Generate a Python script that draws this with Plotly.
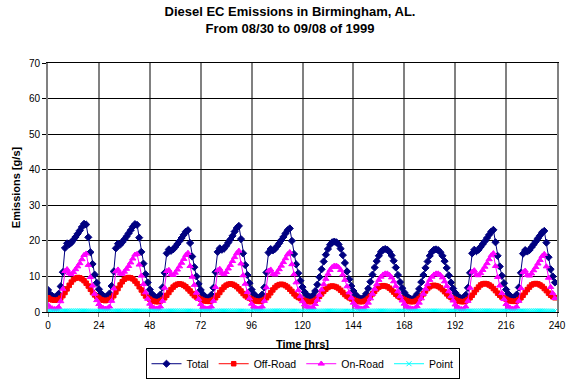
import plotly.graph_objects as go

# Hourly diesel EC emissions [g/s], Birmingham AL, 08/30 - 09/08 1999.
# One row of 24 hourly values per day (hour 0 .. 23).
DAYS = ["08/30", "08/31", "09/01", "09/02", "09/03",
        "09/04", "09/05", "09/06", "09/07", "09/08"]

TOTAL = [
    [6.2, 5.0, 4.5, 4.1, 4.3, 5.1, 7.2, 11.2, 18.0, 19.3, 19.0, 19.5, 20.3, 21.1, 22.0, 22.9, 23.9, 24.8, 24.6, 21.0, 16.8, 13.5, 10.5, 8.2],
    [6.4, 5.2, 4.6, 4.2, 4.4, 5.2, 7.3, 11.4, 17.9, 19.2, 18.9, 19.6, 20.4, 21.2, 22.1, 23.0, 24.0, 24.7, 24.5, 20.9, 16.9, 13.6, 10.6, 8.3],
    [6.3, 5.1, 4.4, 4.0, 4.1, 4.9, 6.9, 11.0, 16.5, 17.6, 17.2, 17.6, 18.3, 19.1, 19.9, 20.8, 21.7, 22.6, 23.0, 19.4, 15.6, 12.6, 10.0, 7.9],
    [6.2, 5.0, 4.3, 3.9, 4.0, 4.8, 6.8, 11.2, 16.9, 17.9, 17.5, 17.8, 18.6, 19.5, 20.4, 21.4, 22.6, 23.6, 24.2, 20.5, 16.5, 13.2, 10.4, 8.1],
    [6.3, 5.1, 4.4, 4.0, 4.1, 4.9, 6.9, 11.1, 16.7, 17.7, 17.3, 17.7, 18.5, 19.3, 20.2, 21.1, 22.1, 23.0, 23.5, 20.0, 16.3, 13.4, 10.9, 8.8],
    [7.0, 5.6, 4.8, 4.3, 4.2, 4.7, 5.9, 7.7, 9.8, 12.0, 14.2, 16.1, 17.7, 18.9, 19.6, 19.8, 19.6, 19.0, 17.8, 16.0, 13.8, 11.4, 9.2, 7.3],
    [5.9, 4.9, 4.2, 3.8, 3.7, 4.1, 5.1, 6.6, 8.5, 10.5, 12.5, 14.3, 15.8, 16.9, 17.5, 17.7, 17.5, 16.9, 15.9, 14.4, 12.5, 10.4, 8.4, 6.7],
    [5.5, 4.6, 4.0, 3.7, 3.6, 4.0, 5.0, 6.5, 8.4, 10.4, 12.4, 14.2, 15.8, 16.9, 17.5, 17.6, 17.4, 16.8, 15.8, 14.3, 12.4, 10.3, 8.3, 6.6],
    [5.4, 4.6, 4.1, 3.8, 4.0, 4.8, 6.8, 11.0, 16.5, 17.5, 17.1, 17.5, 18.3, 19.1, 19.9, 20.8, 21.7, 22.6, 23.1, 19.6, 15.8, 12.8, 10.2, 8.1],
    [6.3, 5.1, 4.4, 4.0, 4.1, 4.9, 6.9, 11.0, 16.4, 17.4, 17.0, 17.4, 18.2, 19.0, 19.8, 20.7, 21.5, 22.4, 22.8, 19.5, 15.4, 12.0, 10.0, 8.3],
]

OFF_ROAD = [
    [4.0, 3.6, 3.4, 3.3, 3.3, 3.5, 3.9, 4.6, 5.5, 6.5, 7.5, 8.4, 9.1, 9.5, 9.7, 9.6, 9.3, 8.8, 8.1, 7.3, 6.4, 5.5, 4.8, 4.3],
    [3.9, 3.5, 3.3, 3.2, 3.3, 3.5, 3.9, 4.6, 5.6, 6.6, 7.6, 8.5, 9.2, 9.6, 9.7, 9.6, 9.3, 8.7, 8.0, 7.1, 6.2, 5.3, 4.5, 4.0],
    [3.6, 3.2, 3.0, 2.9, 2.9, 3.1, 3.5, 4.0, 4.7, 5.5, 6.3, 7.0, 7.5, 7.8, 7.9, 7.8, 7.5, 7.1, 6.5, 5.9, 5.2, 4.6, 4.2, 3.9],
    [3.6, 3.3, 3.1, 3.0, 3.0, 3.2, 3.5, 4.0, 4.7, 5.5, 6.3, 7.0, 7.5, 7.8, 7.9, 7.8, 7.5, 7.1, 6.5, 5.9, 5.2, 4.6, 4.2, 3.9],
    [3.6, 3.3, 3.1, 3.0, 3.0, 3.2, 3.5, 4.0, 4.6, 5.4, 6.2, 6.9, 7.4, 7.7, 7.8, 7.7, 7.4, 7.0, 6.4, 5.8, 5.1, 4.5, 4.1, 3.8],
    [3.5, 3.2, 3.0, 2.9, 2.9, 3.0, 3.3, 3.8, 4.4, 5.1, 5.8, 6.4, 6.9, 7.2, 7.3, 7.2, 7.0, 6.6, 6.1, 5.5, 4.9, 4.4, 4.0, 3.7],
    [3.5, 3.2, 3.0, 2.9, 2.9, 3.0, 3.3, 3.8, 4.4, 5.1, 5.8, 6.5, 7.0, 7.3, 7.4, 7.3, 7.1, 6.7, 6.2, 5.6, 5.0, 4.5, 4.1, 3.8],
    [3.5, 3.2, 3.0, 2.9, 2.9, 3.0, 3.3, 3.8, 4.4, 5.1, 5.9, 6.6, 7.1, 7.4, 7.5, 7.4, 7.2, 6.8, 6.3, 5.7, 5.1, 4.5, 4.1, 3.8],
    [3.5, 3.2, 3.0, 2.9, 2.9, 3.1, 3.5, 4.0, 4.7, 5.5, 6.3, 7.0, 7.6, 7.9, 8.0, 7.9, 7.6, 7.2, 6.6, 6.0, 5.3, 4.7, 4.2, 3.9],
    [3.6, 3.3, 3.1, 3.0, 3.0, 3.1, 3.5, 4.0, 4.7, 5.5, 6.3, 7.0, 7.6, 7.9, 8.0, 7.9, 7.6, 7.2, 6.6, 6.0, 5.3, 4.7, 4.3, 4.0],
]

ON_ROAD = [
    [2.0, 1.3, 1.0, 0.8, 0.9, 1.4, 3.0, 6.5, 11.5, 12.0, 10.9, 10.6, 11.2, 12.0, 12.8, 13.7, 14.8, 16.0, 16.4, 13.2, 9.8, 7.4, 5.1, 3.3],
    [2.2, 1.5, 1.1, 0.9, 1.0, 1.5, 3.1, 6.6, 11.4, 11.9, 10.8, 10.7, 11.3, 12.1, 12.9, 13.9, 15.0, 16.1, 16.3, 13.3, 10.2, 7.8, 5.5, 3.7],
    [2.3, 1.5, 1.1, 0.9, 1.0, 1.5, 3.1, 6.8, 11.5, 11.8, 10.6, 10.4, 11.0, 11.9, 12.8, 13.8, 14.9, 16.0, 16.6, 12.9, 9.9, 7.6, 5.4, 3.6],
    [2.2, 1.4, 1.0, 0.9, 1.0, 1.5, 3.1, 7.0, 11.7, 12.1, 10.9, 10.6, 11.2, 12.2, 13.2, 14.3, 15.4, 16.5, 17.2, 13.6, 10.3, 7.9, 5.6, 3.8],
    [2.3, 1.5, 1.1, 0.9, 1.0, 1.5, 3.1, 6.9, 11.6, 11.9, 10.7, 10.5, 11.1, 12.0, 13.0, 14.0, 15.1, 16.2, 16.8, 13.4, 10.6, 8.3, 6.1, 4.4],
    [3.0, 2.1, 1.5, 1.2, 1.1, 1.3, 2.2, 3.4, 4.8, 6.3, 7.8, 9.3, 10.7, 11.8, 12.6, 13.0, 13.0, 12.6, 11.8, 10.5, 9.0, 7.2, 5.5, 4.0],
    [2.6, 1.8, 1.3, 1.0, 0.9, 1.0, 1.6, 2.6, 3.8, 5.1, 6.5, 7.8, 9.0, 9.9, 10.5, 10.8, 10.8, 10.4, 9.7, 8.6, 7.3, 5.8, 4.4, 3.2],
    [2.3, 1.6, 1.2, 1.0, 0.9, 1.0, 1.6, 2.6, 3.8, 5.1, 6.5, 7.8, 9.0, 9.9, 10.5, 10.8, 10.8, 10.4, 9.7, 8.6, 7.3, 5.8, 4.4, 3.2],
    [2.1, 1.4, 1.0, 0.8, 0.9, 1.5, 3.1, 6.8, 11.3, 11.7, 10.5, 10.3, 10.9, 11.8, 12.7, 13.7, 14.8, 15.9, 16.5, 12.9, 9.8, 7.4, 5.3, 3.6],
    [2.2, 1.5, 1.1, 0.9, 1.0, 1.5, 3.1, 6.7, 11.2, 11.6, 10.4, 10.2, 10.8, 11.7, 12.6, 13.6, 14.6, 15.7, 16.3, 12.8, 9.6, 7.0, 5.3, 3.9],
]

POINT = [
    [0.22, 0.21, 0.21, 0.20, 0.21, 0.22, 0.24, 0.26, 0.27, 0.28, 0.29, 0.29, 0.30, 0.30, 0.30, 0.30, 0.29, 0.29, 0.28, 0.27, 0.26, 0.25, 0.24, 0.23],
    [0.22, 0.21, 0.21, 0.20, 0.21, 0.22, 0.24, 0.26, 0.27, 0.28, 0.29, 0.29, 0.30, 0.30, 0.30, 0.30, 0.29, 0.29, 0.28, 0.27, 0.26, 0.25, 0.24, 0.23],
    [0.22, 0.21, 0.21, 0.20, 0.21, 0.22, 0.24, 0.26, 0.27, 0.28, 0.29, 0.29, 0.30, 0.30, 0.30, 0.30, 0.29, 0.29, 0.28, 0.27, 0.26, 0.25, 0.24, 0.23],
    [0.22, 0.21, 0.21, 0.20, 0.21, 0.22, 0.24, 0.26, 0.27, 0.28, 0.29, 0.29, 0.30, 0.30, 0.30, 0.30, 0.29, 0.29, 0.28, 0.27, 0.26, 0.25, 0.24, 0.23],
    [0.22, 0.21, 0.21, 0.20, 0.21, 0.22, 0.24, 0.26, 0.27, 0.28, 0.29, 0.29, 0.30, 0.30, 0.30, 0.30, 0.29, 0.29, 0.28, 0.27, 0.26, 0.25, 0.24, 0.23],
    [0.22, 0.21, 0.21, 0.20, 0.21, 0.22, 0.23, 0.24, 0.25, 0.26, 0.27, 0.27, 0.28, 0.28, 0.28, 0.28, 0.27, 0.27, 0.26, 0.25, 0.25, 0.24, 0.23, 0.23],
    [0.22, 0.21, 0.21, 0.20, 0.21, 0.22, 0.23, 0.24, 0.25, 0.26, 0.27, 0.27, 0.28, 0.28, 0.28, 0.28, 0.27, 0.27, 0.26, 0.25, 0.25, 0.24, 0.23, 0.23],
    [0.22, 0.21, 0.21, 0.20, 0.21, 0.22, 0.23, 0.24, 0.25, 0.26, 0.27, 0.27, 0.28, 0.28, 0.28, 0.28, 0.27, 0.27, 0.26, 0.25, 0.25, 0.24, 0.23, 0.23],
    [0.22, 0.21, 0.21, 0.20, 0.21, 0.22, 0.24, 0.26, 0.27, 0.28, 0.29, 0.29, 0.30, 0.30, 0.30, 0.30, 0.29, 0.29, 0.28, 0.27, 0.26, 0.25, 0.24, 0.23],
    [0.22, 0.21, 0.21, 0.20, 0.21, 0.22, 0.24, 0.26, 0.27, 0.28, 0.29, 0.29, 0.30, 0.30, 0.30, 0.30, 0.29, 0.29, 0.28, 0.27, 0.26, 0.25, 0.24, 0.23],
]

X_TICKS = [0, 24, 48, 72, 96, 120, 144, 168, 192, 216, 240]
Y_TICKS = [0, 10, 20, 30, 40, 50, 60, 70]


def flatten(rows):
    return [v for row in rows for v in row]


hours = list(range(len(DAYS) * 24))

series = [
    ("Total", flatten(TOTAL), "#000080", "diamond", 5.5),
    ("Off-Road", flatten(OFF_ROAD), "#FF0000", "square", 4.5),
    ("On-Road", flatten(ON_ROAD), "#FF00FF", "triangle-up", 5.5),
    ("Point", flatten(POINT), "#00FFFF", "x-thin-open", 5),
]

FONT = "Arial, 'Liberation Sans', sans-serif"

fig = go.Figure()
for name, values, color, symbol, size in series:
    fig.add_trace(go.Scatter(
        x=hours, y=values, name=name, mode="lines+markers",
        line=dict(color=color, width=1),
        marker=dict(symbol=symbol, size=size, color=color,
                    line=dict(color=color, width=1)),
    ))

fig.update_layout(
    width=572, height=379,
    margin=dict(l=47.5, r=15, t=63, b=67, autoexpand=False),
    paper_bgcolor="white", plot_bgcolor="white",
    font=dict(family=FONT, size=10, color="black"),
    title=dict(
        text="<b>Diesel EC Emissions in Birmingham, AL.<br>From 08/30 to 09/08 of 1999</b>",
        x=0.507, xanchor="center", y=0.957, yanchor="top",
        font=dict(family=FONT, size=13, color="black"),
    ),
    showlegend=True,
    legend=dict(
        orientation="h", x=0.5, xanchor="center", y=-0.27, yanchor="bottom",
        bordercolor="black", borderwidth=1,
        font=dict(family=FONT, size=10.5, color="black"),
        itemwidth=30, tracegroupgap=0,
    ),
    xaxis=dict(
        range=[0, 240], tickvals=X_TICKS, ticktext=[str(t) for t in X_TICKS],
        showgrid=True, gridcolor="#808080", gridwidth=2,
        showline=True, linecolor="black", linewidth=1, mirror=True,
        ticks="outside", ticklen=4, tickcolor="#808080",
        zeroline=False,
        title=dict(text="<b>Time [hrs]</b>", font=dict(family=FONT, size=11), standoff=10),
        tickfont=dict(family=FONT, size=10),
    ),
    yaxis=dict(
        range=[0, 70], tickvals=Y_TICKS, ticktext=[str(t) for t in Y_TICKS],
        showgrid=True, gridcolor="black", gridwidth=1,
        showline=True, linecolor="#808080", linewidth=2, mirror=True,
        ticks="outside", ticklen=4, tickcolor="black",
        zeroline=False,
        title=dict(text="<b>Emissions [g/s]</b>", font=dict(family=FONT, size=11), standoff=6),
        tickfont=dict(family=FONT, size=10),
    ),
)

fig.write_html("out.html")
